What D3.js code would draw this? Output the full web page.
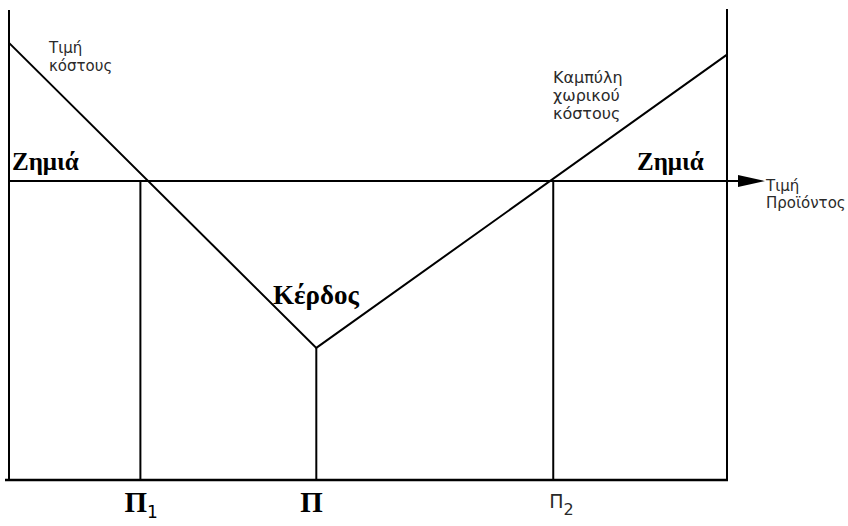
<!DOCTYPE html>
<html>
<head>
<meta charset="utf-8">
<script src="https://cdn.jsdelivr.net/npm/d3@7"></script>
<style>
  body { margin: 0; background: #fff; }
  .serif { font-family: "Liberation Serif", "DejaVu Serif", serif; fill: #000; }
  .sans { font-family: "DejaVu Sans", "Liberation Sans", sans-serif; fill: #2a2a2a; }
</style>
</head>
<body>
<div id="chart"></div>
<script>
// cost curve (x = product price, y = spatial cost), both on 0-100 scale
var costX = [0, 42.8, 100];
var costY = [93, 28.1, 90.5];
// product price level (horizontal line)
var priceLevel = 63.6;
// marked positions on the x axis
var markNames = ["Π", "Π", "Π"];
var markSubs = ["1", "", "2"];
var markX = [18.3, 42.8, 75.8];

var svgWidth = 848, svgHeight = 526;

var svg = d3.select("#chart")
  .append("svg")
  .attr("width", svgWidth)
  .attr("height", svgHeight);

var xScale = d3.scaleLinear().domain([0, 100]).range([9, 727]);
var yScale = d3.scaleLinear().domain([0, 100]).range([480, 10]);

var ink = "#000";

// frame: left and right verticals, bottom line
svg.append("line")
  .attr("x1", xScale(0)).attr("x2", xScale(0))
  .attr("y1", yScale(100)).attr("y2", yScale(0))
  .attr("stroke", ink).attr("stroke-width", 2);
svg.append("line")
  .attr("x1", xScale(100)).attr("x2", xScale(100))
  .attr("y1", yScale(100.2)).attr("y2", yScale(0))
  .attr("stroke", ink).attr("stroke-width", 2);
svg.append("line")
  .attr("x1", xScale(0) - 4).attr("x2", xScale(100) + 1)
  .attr("y1", yScale(0)).attr("y2", yScale(0))
  .attr("stroke", ink).attr("stroke-width", 2.5);

// price line with arrow head
var py = yScale(priceLevel);
svg.append("line")
  .attr("x1", xScale(0)).attr("x2", 742)
  .attr("y1", py).attr("y2", py)
  .attr("stroke", ink).attr("stroke-width", 2);
svg.append("path")
  .attr("d", d3.line()([[738, py - 6], [765, py], [738, py + 6]]) + "Z")
  .attr("fill", ink);

// vertical drop lines at Π1, Π, Π2
markX.forEach(function(mx, i) {
  var top = i == 1 ? d3.min(costY) : priceLevel;
  svg.append("line")
    .attr("x1", xScale(mx)).attr("x2", xScale(mx))
    .attr("y1", yScale(top)).attr("y2", yScale(0))
    .attr("stroke", ink).attr("stroke-width", 2);
});

// the cost curve
var line = d3.line()
  .x(function(d, i) { return xScale(costX[i]); })
  .y(function(d) { return yScale(d); });
svg.append("path")
  .datum(costY)
  .attr("d", line)
  .attr("fill", "none")
  .attr("stroke", ink)
  .attr("stroke-width", 2);

// labels
function multi(x, y, lines, size, lh) {
  var t = svg.append("text").attr("class", "sans").attr("font-size", size);
  lines.forEach(function(s, i) {
    t.append("tspan").attr("x", x).attr("y", y + i * lh).text(s);
  });
}
multi(49, 53, ["Τιμή", "κόστους"], 15, 18);
multi(553, 83, ["Καμπύλη", "χωρικού", "κόστους"], 16, 18);
multi(766, 191, ["Τιμή", "Προϊόντος"], 15, 17);

svg.append("text").attr("class", "serif").attr("font-size", 25)
  .attr("font-weight", "bold")
  .attr("x", 12).attr("y", 170).text("Ζημιά");
svg.append("text").attr("class", "serif").attr("font-size", 25)
  .attr("font-weight", "bold")
  .attr("x", 637).attr("y", 170).text("Ζημιά");
svg.append("text").attr("class", "serif").attr("font-size", 27)
  .attr("font-weight", "bold")
  .attr("x", 273).attr("y", 304).text("Κέρδος");

// bottom marks
markX.forEach(function(mx, i) {
  var bold = i < 2;
  var t = svg.append("text")
    .attr("x", xScale(mx) - (bold ? 16 : 4))
    .attr("y", bold ? 512 : 508)
    .attr("class", bold ? "serif" : "sans")
    .attr("font-weight", bold ? "bold" : "normal")
    .attr("font-size", bold ? 29 : 19);
  t.append("tspan").text(markNames[i]);
  if (markSubs[i]) {
    t.append("tspan")
      .attr("dy", bold ? 6 : 7)
      .attr("font-size", bold ? 17 : 16)
      .attr("font-weight", "normal")
      .attr("font-family", "'DejaVu Sans', sans-serif")
      .text(markSubs[i]);
  }
});
</script>
</body>
</html>
